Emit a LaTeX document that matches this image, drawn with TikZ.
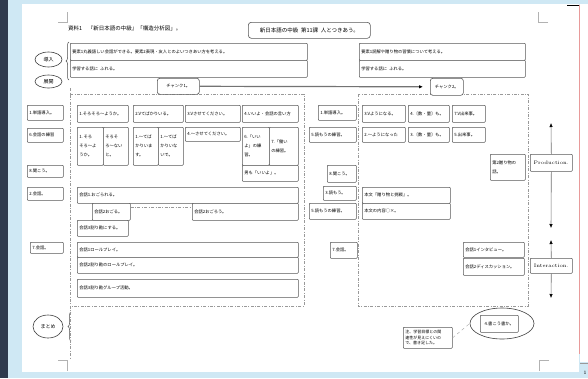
\documentclass[tikz,border=0pt]{standalone}
\usepackage{fontspec}
\newfontfamily\jp{Noto Sans CJK JP}
\usetikzlibrary{arrows.meta,positioning,shapes.geometric,decorations.pathreplacing}
\definecolor{deskblue}{HTML}{CFE8F4}
\definecolor{barnavy}{HTML}{2E3B4E}
\definecolor{marginred}{HTML}{E89A9A}

\begin{document}
\begin{tikzpicture}[x=1pt, y=-1pt,
  cell/.style={draw=black!65, line width=0.6pt, rounded corners=0.8pt, fill=white, anchor=north west,
    inner xsep=2pt, inner ysep=1pt, align=left, text width=#1-4pt, font=\jp\fontsize{4.3}{9}\selectfont},
  tag/.style={draw=black!65, line width=0.6pt, rounded corners=2.5pt, fill=white, anchor=north west,
    align=center, inner sep=1pt, font=\jp\fontsize{4.3}{6}\selectfont},
  stage/.style={ellipse, draw=black!75, line width=0.6pt, inner sep=0pt, font=\jp\fontsize{5}{6}\selectfont},
  axislabel/.style={draw=black!65, line width=0.6pt, rounded corners=0.8pt, fill=white, anchor=north west,
    inner sep=1pt, font=\fontsize{5}{6}\selectfont},
  region/.style={draw=black!40, line width=0.6pt, dash pattern=on 3pt off 1.5pt on 0.8pt off 1.5pt},
  cropmark/.style={draw=black!30, line width=0.4pt},
  chunkflow/.style={draw=black!55, line width=1.2pt, -{Latex[length=4pt,width=3.5pt,color=black]}},
  axis/.style={draw=black!55, line width=0.6pt, -{Latex[length=4pt,width=3.5pt,color=black]}},
  remarklink/.style={draw=black!35, line width=0.4pt, dashed}
]
\useasboundingbox (0,0) rectangle (588,378);

% Window and page
\fill[deskblue] (0,0) rectangle (588,378);
\fill[barnavy] (0,0) rectangle (8,378);
\fill[white] (22,4) rectangle (579,372);
\fill[white] (580,4) rectangle (588,362);
\draw[marginred, line width=0.8pt] (579,5) -- (579,354);
\draw[black, line width=0.8pt] (567,5) -- (579,5);
\draw[black!40, line width=0.5pt] (580,363) -- (588,363);
\node[font=\fontsize{5}{6}\selectfont, inner sep=0pt] (pagenum) at (585,373) {1};
\draw[cropmark] (58,22) -- (67,22) -- (67,12);
\draw[cropmark] (548,22) -- (538,22) -- (538,12);
\draw[cropmark] (58,360) -- (67,360) -- (67,371);
\draw[cropmark] (549,360) -- (539,360) -- (539,371);

% Titles
\node[anchor=west, inner sep=0pt, font=\jp\fontsize{5.5}{6}\selectfont] (doctitle) at (68,28)
  {資料1\quad『新日本語の中級』「構造分析図」。};
\node[tag, rounded corners=3pt, minimum width=122pt, minimum height=16pt, font=\jp\fontsize{5.5}{6}\selectfont]
  (lesson) at (248,22) {新日本語の中級\enspace 第11課\enspace 人とつきあう。};

% Stages
\node[stage, minimum width=27pt, minimum height=15pt] (dounyu) at (48.5,59.5) {導入};
\node[stage, minimum width=27pt, minimum height=13pt] (tenkai) at (48.5,81.5) {展開};
\node[stage, minimum width=30pt, minimum height=23pt] (matome) at (48,326.5) {まとめ};
\draw[black!70, line width=0.5pt, decorate, decoration={brace, amplitude=3pt}] (69,80) -- (69,42);
\draw[black!70, line width=0.5pt, decorate, decoration={brace, amplitude=3pt}] (71,341) -- (71,312);

% Goals
\node[cell=237pt, minimum height=17pt] (goalLa) at (70,43)
  {要素1丸義語しい会話ができる。要素2表現・友人とのよいつきあい方を考える。};
\node[cell=237pt, minimum height=17pt] (goalLb) at (70,60) {学習する話に\enspace ふれる。};
\node[cell=166pt, minimum height=17pt] (goalRa) at (359,43) {要素1読解や贈り物の習慣について考える。};
\node[cell=166pt, minimum height=17pt] (goalRb) at (359,60) {学習する話に\enspace ふれる。};

% Chunk regions
\draw[region] (70,94) -- (304,94) -- (304,306) -- (70,306);
\draw[region] (70,88) -- (70,358);
\draw[region] (358,94) rectangle (528,306);
\node[tag, minimum width=42pt, minimum height=16pt] (chunk1) at (157,78) {チャンク1。};
\node[tag, minimum width=33pt, minimum height=17pt] (chunk2) at (430,78) {チャンク2。};
\draw[chunkflow, shorten >=7pt] (chunk1.east) -- (chunk2.west);

% Chunk 1: steps
\node[cell=36pt, minimum height=15pt] (lblA1) at (27,105) {1.単語導入。};
\node[cell=36pt, minimum height=14pt] (lblA6) at (27,128) {6.会話の練習};
\node[cell=36pt, minimum height=12pt] (lblA8) at (27,165) {8.聞こう。};
\node[cell=36pt, minimum height=13pt] (lblA2) at (27,187) {2.会話。};
\node[cell=33pt, minimum height=11pt] (lblA7) at (30,242) {7.会話。};

\node[cell=51pt, minimum height=17pt] (r1a) at (77,105) {1.そろそろ〜ようか。};
\node[cell=50pt, minimum height=17pt] (r1b) at (133,105) {2.Vてばかりいる。};
\node[cell=55pt, minimum height=17pt] (r1c) at (185,105) {3.Vさせてください。};
\node[cell=56pt, minimum height=17pt] (r1d) at (242,105) {4.いいよ・会話の言い方};

\node[cell=26pt, minimum height=38pt] (r2a) at (77,127) {1.\,そろ\\そろ〜よ\\うか。};
\node[cell=25pt, minimum height=38pt] (r2b) at (103,127) {そろそ\\ろ〜ない\\と。};
\node[cell=25pt, minimum height=38pt] (r2c) at (133,127) {1.〜てば\\かりいま\\す。};
\node[cell=25pt, minimum height=38pt] (r2d) at (158,127) {1.〜てば\\かりいな\\いで。};
\node[cell=55pt, minimum height=14pt] (r2e) at (185,127) {4.〜させてください。};
\node[cell=27pt, minimum height=38pt] (r2f) at (242,127) {6.「いい\\よ」の練\\習。};
\node[cell=29pt, minimum height=38pt] (r2g) at (269,127) {7.「働い\\の練習。};
\node[cell=56pt, minimum height=16pt] (r2h) at (242,165) {男も「いいよ」。};

\node[cell=221pt, minimum height=16pt] (talkA1) at (77,187) {会話1.おごられる。};
\node[cell=38pt, minimum height=17pt] (talkA2) at (92,203) {会話2おごる。};
\node[cell=106pt, minimum height=17pt] (talkA3) at (192,203) {会話2おごろう。};
\draw[region] ([yshift=-4pt]talkA2.north east) -- ([yshift=-4pt]talkA3.north west);
\node[cell=51pt, minimum height=16pt] (talkA4) at (77,220) {会話3割り勘にする。};

\node[cell=221pt, minimum height=15pt] (roleA1) at (77,242) {会話1ロールプレイ。};
\node[cell=221pt, minimum height=16pt] (roleA2) at (77,257) {会話2割り勘のロールプレイ。};
\node[cell=221pt, minimum height=18pt] (roleA3) at (77,279) {会話3割り勘グループ活動。};

% Chunk 2: steps
\node[cell=38pt, minimum height=15pt] (lblB1) at (318,105) {1.単語導入。};
\node[cell=47pt, minimum height=15pt] (lblB5) at (309,127) {5.読もうの練習。};
\node[cell=29pt, minimum height=17pt] (lblB8) at (327,165) {8.聞こう。};
\node[cell=33pt, minimum height=14pt] (lblB3) at (323,186) {3.読もう。};
\node[cell=47pt, minimum height=16pt] (lblB5b) at (309,203) {5.読もうの練習。};
\node[cell=27pt, minimum height=16pt] (lblB7) at (330,242) {7.会話。};

\node[cell=43pt, minimum height=17pt] (s1a) at (362,105) {3.Vようになる。};
\node[cell=41pt, minimum height=17pt] (s1b) at (408,105) {4.〔数・量〕も。};
\node[cell=33pt, minimum height=17pt] (s1c) at (452,105) {7.V出来事。};
\node[cell=43pt, minimum height=15pt] (s2a) at (362,127) {2.〜ようになった};
\node[cell=41pt, minimum height=15pt] (s2b) at (408,127) {3.〔数・量〕も。};
\node[cell=33pt, minimum height=15pt] (s2c) at (452,127) {5.出来事。};
\node[cell=35pt, minimum height=26pt] (gift) at (490,154) {第2贈り物の\\話。};

\node[cell=88pt, minimum height=16pt] (readB1) at (362,187) {本文『贈り物と挑戦』。};
\node[cell=88pt, minimum height=16pt] (readB2) at (362,203) {本文の内容○×。};
\node[cell=61pt, minimum height=15pt] (talkB1) at (463,242) {会話1インタビュー。};
\node[cell=61pt, minimum height=17pt] (talkB2) at (463,258) {会話2ディスカッション。};

% Production / Interaction
\node[axislabel, minimum width=42pt, minimum height=17pt] (prod) at (530,154) {Production.};
\node[axislabel, minimum width=42pt, minimum height=15pt] (inter) at (530,258) {Interaction.};
\coordinate (prodtop) at (551,123);
\coordinate (prodbot) at (551,228);
\coordinate (intertop) at (551,240);
\coordinate (interbot) at (551,298);
\draw[axis] (prod.north) -- (prodtop);
\draw[axis] (prod.south) -- (prodbot);
\draw[axis] (inter.north) -- (intertop);
\draw[axis] (inter.south) -- (interbot);

% Closing
\node[stage, minimum width=64pt, minimum height=31pt] (writeoval) at (502,323.5) {};
\node[cell=38pt, minimum height=17pt, align=center] (write) at (480,315) {4.書こう書か。};
\node[cell=49pt, minimum height=21pt, font=\jp\fontsize{4}{5.5}\selectfont] (remark) at (403,327)
  {注、学習目標との関\\連性が見えにくいの\\で、書き足した。};
\draw[remarklink] (remark.east) -- (writeoval.west);

\end{tikzpicture}
\end{document}
